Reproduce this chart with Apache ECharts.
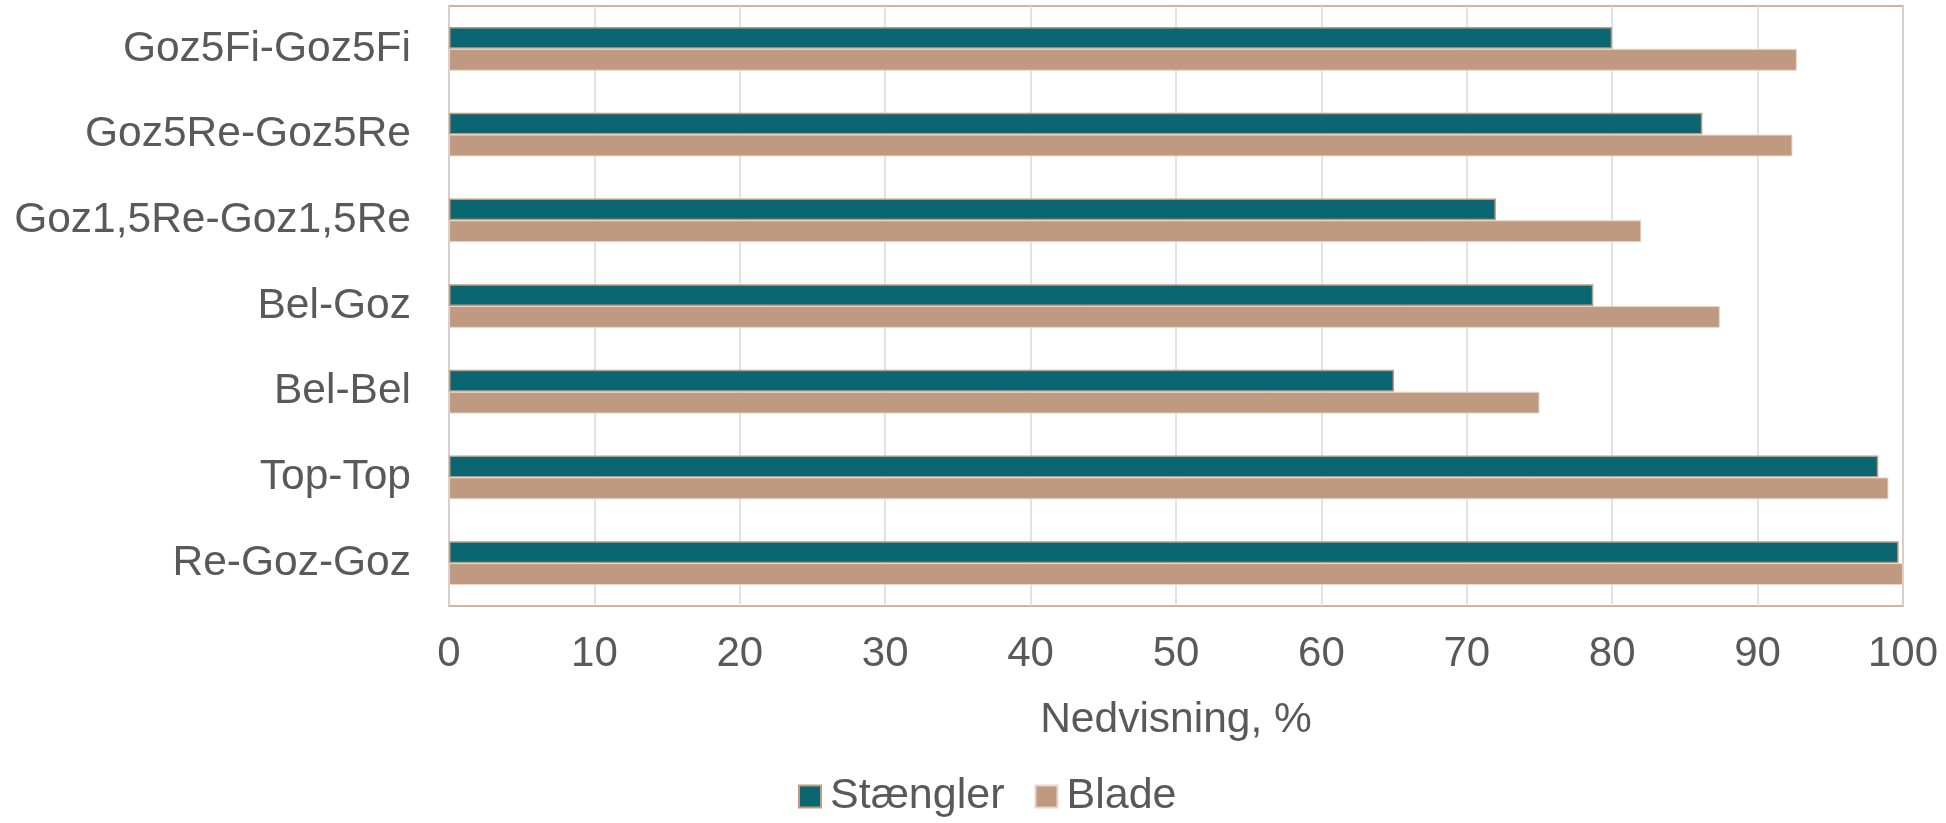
<!DOCTYPE html>
<html><head><meta charset="utf-8">
<script src="https://cdn.jsdelivr.net/npm/echarts@6/dist/echarts.min.js"></script>
<style>html,body{margin:0;padding:0;background:#fff}#c{width:1946px;height:823px}</style>
</head><body><div id="c"></div>
<script>
const categories = ['Goz5Fi-Goz5Fi','Goz5Re-Goz5Re','Goz1,5Re-Goz1,5Re','Bel-Goz','Bel-Bel','Top-Top','Re-Goz-Goz'];
const staengler = [80.0, 86.2, 72.0, 78.7, 65.0, 98.3, 99.7];
const blade = [92.7, 92.4, 82.0, 87.4, 75.0, 99.0, 100.0];
const xTicks = [0,10,20,30,40,50,60,70,80,90,100];
const seriesNames = ['Stængler','Blade'];
const axisTitle = 'Nedvisning, %';

const font = 'Liberation Sans, Arial, sans-serif';
const txt = '#595959';
const chart = echarts.init(document.getElementById('c'));
chart.setOption({
  animation:false,
  grid:{left:449,right:43,top:6,bottom:217,show:true,borderColor:'#c09a80',borderWidth:1.5,containLabel:false},
  legend:{bottom:0,left:793,icon:'rect',itemWidth:22,itemHeight:22,itemGap:30,
    textStyle:{fontFamily:font,fontSize:43,color:txt,padding:[0,0,0,4]},
    data:seriesNames},
  xAxis:{type:'value',min:0,max:100,interval:10,
    name:axisTitle,nameLocation:'middle',nameGap:93,
    nameTextStyle:{fontFamily:font,fontSize:42.5,color:txt},
    axisLine:{show:false},axisTick:{show:false},
    axisLabel:{fontFamily:font,fontSize:42,color:txt,margin:27,
      formatter:v=>xTicks.includes(v)?String(v):''},
    splitLine:{lineStyle:{color:'#d9d9d9',width:1.5}}},
  yAxis:{type:'category',data:categories,inverse:true,
    axisLine:{show:false},axisTick:{show:false},
    axisLabel:{fontFamily:font,fontSize:42.5,color:txt,margin:38}},
  series:[
    {name:seriesNames[0],type:'bar',data:staengler,barGap:'0%',barCategoryGap:'49%',
     itemStyle:{color:'#0a6670',borderColor:'#c09a80',borderWidth:1.5}},
    {name:seriesNames[1],type:'bar',data:blade,barGap:'0%',barCategoryGap:'49%',
     itemStyle:{color:'#c09a80',borderColor:'#e6d6cb',borderWidth:1}}
  ]
});
</script></body></html>
